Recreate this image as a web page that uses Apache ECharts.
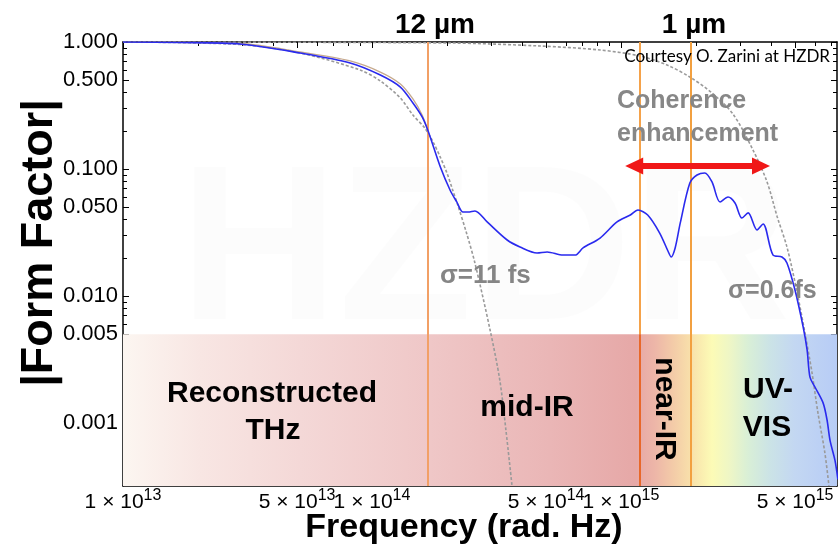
<!DOCTYPE html>
<html>
<head>
<meta charset="utf-8">
<script src="https://cdn.jsdelivr.net/npm/echarts@6/dist/echarts.min.js"></script>
<style>
  html, body { margin: 0; padding: 0; background: #fff; }
  #chart { width: 838px; height: 550px; }
</style>
</head>
<body>
<div id="chart"></div>
<script>
// Measured form factor (blue) vs. angular frequency
const freqMeasured = [1.0e13, 1.69e13, 2.95e13, 5.14e13, 8.17e13, 1.08e14, 1.30e14, 1.46e14, 1.59e14, 1.68e14,
  1.88e14, 2.06e14, 2.19e14, 2.32e14, 2.43e14, 2.59e14, 2.90e14, 3.49e14, 3.93e14, 4.60e14,
  5.05e14, 5.85e14, 6.54e14, 7.04e14, 8.24e14, 9.64e14, 1.09e15, 1.17e15, 1.28e15, 1.43e15,
  1.55e15, 1.59e15, 1.65e15, 1.73e15, 1.89e15, 2.02e15, 2.17e15, 2.32e15, 2.50e15, 2.69e15,
  2.87e15, 3.06e15, 3.24e15, 3.52e15, 3.72e15, 4.08e15, 4.43e15, 4.64e15, 5.00e15, 5.39e15,
  5.59e15, 5.74e15, 6.01e15, 6.48e15, 6.72e15, 6.91e15, 7.23e15, 7.43e15];
const ffMeasured = [1.000, 0.991, 0.964, 0.819, 0.684, 0.550, 0.442, 0.331, 0.257, 0.199,
  0.104, 0.068, 0.055, 0.0458, 0.0458, 0.0467, 0.0383, 0.0276, 0.0243, 0.0218,
  0.0222, 0.0210, 0.0210, 0.0239, 0.0286, 0.0383, 0.0434, 0.0475, 0.0434, 0.0313,
  0.0222, 0.0203, 0.0239, 0.0376, 0.0776, 0.0897, 0.0930, 0.0790, 0.0550, 0.0602,
  0.0540, 0.0411, 0.0451, 0.0331, 0.0369, 0.0210, 0.0203, 0.0182, 0.0111, 0.0057,
  0.00376, 0.00230, 0.00192, 0.00144, 0.00106, 0.00073, 0.00051, 0.00036];

// Reconstructed THz spectrum of a second shot (faint tan trace)
const freqShot2 = [1.0e13, 2.95e13, 5.14e13, 8.17e13, 1.08e14, 1.30e14, 1.46e14, 1.59e14, 1.68e14];
const ffShot2 = [1.000, 0.973, 0.834, 0.709, 0.580, 0.467, 0.356, 0.266, 0.199];

// Gaussian bunch reference, sigma = 11 fs
const freqSigma11 = [1.0e13, 2.95e13, 5.14e13, 8.96e13, 1.08e14, 1.30e14, 1.46e14, 1.63e14, 1.76e14, 1.88e14,
  2.00e14, 2.11e14, 2.21e14, 2.39e14, 2.59e14, 2.98e14, 3.26e14, 3.45e14, 3.65e14];
const ffSigma11 = [1.0, 0.955, 0.82, 0.602, 0.493, 0.362, 0.266, 0.210, 0.163, 0.124,
  0.093, 0.068, 0.052, 0.0319, 0.0182, 0.0054, 0.00218, 0.00088, 0.00032];

// Gaussian bunch reference, sigma = 0.6 fs
const freqSigma06 = [1.0e13, 2.06e14, 4.73e14, 8.24e14, 1.19e15, 1.53e15, 1.89e15, 2.32e15, 2.82e15, 3.39e15,
  3.86e15, 4.24e15, 4.64e15, 5.10e15, 5.48e15, 5.85e15, 6.18e15, 6.59e15, 6.84e15];
const ffSigma06 = [1.0, 0.982, 0.93, 0.865, 0.776, 0.659, 0.530, 0.397, 0.27, 0.141,
  0.079, 0.042, 0.0243, 0.0106, 0.00511, 0.00248, 0.0012, 0.00058, 0.00032];

// Axis ranges and tick labels
const freqMin = 1e13, freqMax = 7.37e15;
const ffMin = 3.19e-4, ffMax = 1.0;
const xTickLabels = [1e13, 5e13, 1e14, 5e14, 1e15, 5e15];
const yTickLabels = [1.0, 0.5, 0.1, 0.05, 0.01, 0.005, 0.001];

// Wavelength markers (rad/s) and spectrometer band boundary
const freq12um = 1.68e14, freqNearIR = 1.19e15, freq1um = 1.91e15;
const bandTop = 0.005;

// Coherence enhancement arrow
const arrowFrom = 1.13e15, arrowTo = 3.65e15, arrowLevel = 0.1057;

const L = Math.log10;
const X0 = L(freqMin), X1 = L(freqMax), Y0 = L(ffMin), Y1 = L(ffMax);
const pairs = (f, v) => f.map((x, i) => [L(x), L(v[i])]);

function decadeTicks(lo, hi) {
  const out = [];
  for (let d = Math.floor(lo) - 1; d <= Math.ceil(hi); d++) {
    for (let k = 1; k <= 9; k++) {
      const v = d + L(k);
      if (v >= lo - 1e-9 && v <= hi + 1e-9) out.push(v);
    }
  }
  return out;
}
const near = (a, list) => list.some(b => Math.abs(a - b) < 1e-6);
const xMajor = xTickLabels.map(L);
const yMajor = yTickLabels.map(L);
const xMinor = decadeTicks(X0, X1).filter(v => !near(v, xMajor));
const yMinor = decadeTicks(Y0, Y1).filter(v => !near(v, yMajor));

const FONT = "'Liberation Sans', Arial, sans-serif";
const tickStyle = { color: '#000', width: 1 };

function xAxisDef(pos, values, len, withLine, withLabels) {
  return {
    type: 'value', min: X0, max: X1, position: pos,
    axisLine: { show: withLine, onZero: false, lineStyle: { color: '#000', width: 1.5 } },
    splitLine: { show: false },
    axisTick: { show: true, inside: true, length: len, customValues: values, lineStyle: tickStyle },
    axisLabel: withLabels ? {
      show: true, customValues: xMajor, margin: 2,
      formatter: v => {
        const e = Math.floor(v + 1e-6);
        const m = Math.round(Math.pow(10, v - e));
        return '{m|' + m + ' × 10}{e|' + e + '}';
      },
      rich: {
        m: { fontSize: 21, fontFamily: FONT, color: '#000' },
        e: { fontSize: 16, fontFamily: FONT, color: '#000', padding: [0, 0, 12, 0] }
      }
    } : { show: false }
  };
}
function yAxisDef(pos, values, len, withLine, withLabels) {
  return {
    type: 'value', min: Y0, max: Y1, position: pos,
    axisLine: { show: withLine, onZero: false, lineStyle: { color: '#000', width: 1.5 } },
    splitLine: { show: false },
    axisTick: { show: true, inside: true, length: len, customValues: values, lineStyle: tickStyle },
    axisLabel: withLabels ? {
      show: true, customValues: yMajor, margin: 5,
      fontSize: 22, fontFamily: FONT, color: '#000',
      formatter: v => Math.pow(10, v).toFixed(3)
    } : { show: false }
  };
}

const chart = echarts.init(document.getElementById('chart'), null, { renderer: 'canvas' });

const txt = (text, x, y, font, fill, align, extra) => Object.assign({
  type: 'text', x: x, y: y, z: 100,
  style: { text: text, font: font, fill: fill, align: align || 'center', verticalAlign: 'middle',
           textAlign: align || 'center', textVerticalAlign: 'middle' }
}, extra || {});

const option = {
  animation: false,
  backgroundColor: '#fff',
  grid: { left: 123, right: 1, top: 42, bottom: 64, containLabel: false },
  xAxis: [
    xAxisDef('bottom', xMajor, 6, true, true),
    xAxisDef('bottom', xMinor, 4, false, false),
    xAxisDef('top', xMajor, 6, true, false),
    xAxisDef('top', xMinor, 4, false, false)
  ],
  yAxis: [
    yAxisDef('left', yMajor, 6, true, true),
    yAxisDef('left', yMinor, 4, false, false),
    yAxisDef('right', yMajor, 6, true, false),
    yAxisDef('right', yMinor, 4, false, false)
  ],
  graphic: [
    txt('HZDR', 485, 258, 'bold 220px ' + FONT, 'rgba(0,0,0,0.013)', 'center', { z: 0 }),
    txt('12 µm', 435, 25, 'bold 28px ' + FONT, '#000'),
    txt('1 µm', 694, 25, 'bold 28px ' + FONT, '#000'),
    txt('Courtesy O. Zarini at HZDR', 830, 57, '17px Lato, ' + FONT, '#000', 'right'),
    txt('Coherence', 617, 101, 'bold 25px ' + FONT, '#878787', 'left'),
    txt('enhancement', 617, 134, 'bold 25px ' + FONT, '#878787', 'left'),
    txt('σ=11 fs', 440, 276, 'bold 26px ' + FONT, '#858585', 'left'),
    txt('σ=0.6fs', 728, 291, 'bold 25px ' + FONT, '#858585', 'left'),
    txt('Reconstructed', 272, 394, 'bold 30px ' + FONT, '#000'),
    txt('THz', 273, 431, 'bold 30px ' + FONT, '#000'),
    txt('mid-IR', 527, 408, 'bold 30px ' + FONT, '#000'),
    txt('near-IR', 664, 409, 'bold 30px ' + FONT, '#000', 'center', { rotation: -Math.PI / 2 }),
    txt('UV-', 768, 390, 'bold 30px ' + FONT, '#000'),
    txt('VIS', 767, 428, 'bold 30px ' + FONT, '#000'),
    txt('|Form Factor|', 40, 243, 'bold 45px ' + FONT, '#000', 'center', { rotation: Math.PI / 2 }),
    txt('Frequency (rad. Hz)', 464, 528, 'bold 34px ' + FONT, '#000')
  ],
  series: [
    {
      // spectral band coverage below the detection floor
      type: 'line', data: [], z: 1, silent: true,
      markArea: {
        silent: true,
        itemStyle: {
          color: {
            type: 'linear', x: 0, y: 0, x2: 1, y2: 0,
            colorStops: [
              { offset: 0.00, color: '#fcf6f1' },
              { offset: 0.108, color: '#f8e6e3' },
              { offset: 0.248, color: '#f4d8d7' },
              { offset: 0.43, color: '#efc7c7' },
              { offset: 0.598, color: '#eab6b6' },
              { offset: 0.718, color: '#e6a8a7' },
              { offset: 0.745, color: '#edb6a8' },
              { offset: 0.769, color: '#f3caa8' },
              { offset: 0.794, color: '#f8dfaa' },
              { offset: 0.825, color: '#fcfbb6' },
              { offset: 0.85, color: '#eef6c6' },
              { offset: 0.875, color: '#d9efd6' },
              { offset: 0.906, color: '#cbe3e6' },
              { offset: 0.941, color: '#c3d7f2' },
              { offset: 1.00, color: '#b7ccf6' }
            ]
          }
        },
        data: [[{ coord: [X0, Y0] }, { coord: [X1, L(bandTop)] }]]
      }
    },
    {
      // wavelength markers
      type: 'line', data: [], z: 2, silent: true,
      markLine: {
        silent: true, symbol: ['none', 'none'], label: { show: false },
        data: [
          [{ coord: [L(freq12um), Y0], lineStyle: { color: '#f2a066', width: 2, type: 'solid' } },
           { coord: [L(freq12um), Y1] }],
          [{ coord: [L(freqNearIR), L(bandTop)], lineStyle: { color: '#f5a24a', width: 2, type: 'solid' } },
           { coord: [L(freqNearIR), Y1] }],
          [{ coord: [L(freqNearIR), Y0], lineStyle: { color: '#e8682a', width: 2, type: 'solid' } },
           { coord: [L(freqNearIR), L(bandTop)] }],
          [{ coord: [L(freq1um), Y0], lineStyle: { color: '#f2a040', width: 2, type: 'solid' } },
           { coord: [L(freq1um), Y1] }]
        ]
      }
    },
    {
      name: 'shot 2', type: 'line', z: 3, smooth: 0.3, symbol: 'none',
      lineStyle: { color: '#b89470', width: 1.3, opacity: 0.8 },
      data: pairs(freqShot2, ffShot2)
    },
    {
      name: 'σ=11 fs', type: 'line', z: 3, smooth: 0.3, symbol: 'none',
      lineStyle: { color: '#9a9a9a', width: 1.6, type: [3, 2] },
      data: pairs(freqSigma11, ffSigma11)
    },
    {
      name: 'σ=0.6 fs', type: 'line', z: 3, smooth: 0.3, symbol: 'none',
      lineStyle: { color: '#9a9a9a', width: 1.6, type: [3, 2] },
      data: pairs(freqSigma06, ffSigma06)
    },
    {
      name: 'measured', type: 'line', z: 5, smooth: 0.3, symbol: 'none',
      lineStyle: { color: '#2a2aee', width: 1.6 },
      data: pairs(freqMeasured, ffMeasured)
    },
    {
      // coherence enhancement arrow
      type: 'line', data: [], z: 6, silent: true,
      markLine: {
        silent: true, symbol: ['triangle', 'triangle'], symbolSize: [17, 18],
        label: { show: false },
        lineStyle: { color: '#f01818', width: 6, type: 'solid' },
        itemStyle: { color: '#f01818' },
        data: [[{ coord: [L(arrowFrom), L(arrowLevel)] }, { coord: [L(arrowTo), L(arrowLevel)] }]]
      }
    }
  ]
};
chart.setOption(option);
</script>
</body>
</html>
